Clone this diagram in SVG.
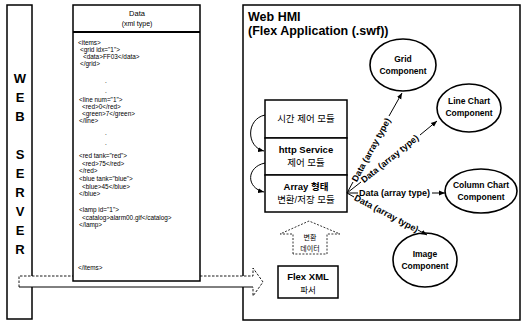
<svg xmlns="http://www.w3.org/2000/svg" width="523" height="324" viewBox="0 0 523 324">
<style>
text{font-family:"Liberation Sans","Noto Sans CJK KR",sans-serif;fill:#000}
.box{fill:#fff;stroke:#000;stroke-width:1.5}
.b{font-weight:bold}
.xml{font-size:6.4px;fill:#222}
.srv{font-size:13px;font-weight:bold;text-anchor:middle}
.mod{font-size:9.5px;text-anchor:middle}
.cmp{font-size:8.5px;font-weight:bold;text-anchor:middle}
.lbl{font-size:9px;font-weight:bold}
.ln{fill:none;stroke:#000;stroke-width:1}
.ell{fill:#fff;stroke:#000;stroke-width:1.6}
</style>
<defs>
<marker id="ah" viewBox="0 0 6 6" refX="6" refY="3" markerWidth="6" markerHeight="6" markerUnits="userSpaceOnUse" orient="auto">
<path d="M0,0.5 L6,3 L0,5.5 z" fill="#000"/>
</marker>
</defs>

<g id="web-server">
<rect class="box" x="7" y="5" width="25" height="314"/>
<text class="srv" x="20" y="83">W</text>
<text class="srv" x="20" y="102">E</text>
<text class="srv" x="20" y="121">B</text>
<text class="srv" x="20" y="159">S</text>
<text class="srv" x="20" y="178">E</text>
<text class="srv" x="20" y="197">R</text>
<text class="srv" x="20" y="216">V</text>
<text class="srv" x="20" y="235">E</text>
<text class="srv" x="20" y="254">R</text>
</g>

<g id="web-hmi">
<rect class="box" x="243" y="5" width="277" height="315"/>
<text class="b" x="248" y="21" font-size="12.5">Web HMI</text>
<text class="b" x="248" y="35" font-size="12.5">(Flex Application (.swf))</text>
</g>

<g id="transfer-arrow">
<path d="M19,276 L253,276 L253,268 L263,282 L253,296 L253,287 L19,287 Z" fill="#fff" stroke="none"/>
<path d="M19,287 L19,276 L253,276 L253,268 L263,282 L253,296 L253,287" fill="none" stroke="#000" stroke-width="0.9" stroke-dasharray="2.5 1.5"/>
<line x1="19" y1="287" x2="253" y2="287" stroke="#000" stroke-width="1"/>
</g>

<g id="data-box">
<rect class="box" x="73" y="5" width="127" height="276"/>
<line x1="73" y1="32" x2="200" y2="32" stroke="#000" stroke-width="2"/>
<text x="137" y="16" font-size="7.5" text-anchor="middle">Data</text>
<text x="137" y="26" font-size="7" text-anchor="middle">(xml type)</text>
<g class="xml">
<text x="78" y="45">&lt;items&gt;</text>
<text x="80" y="52">&lt;grid idx="1"&gt;</text>
<text x="83" y="59">&lt;data&gt;FF03&lt;/data&gt;</text>
<text x="80" y="66">&lt;/grid&gt;</text>
<text x="105" y="83">.</text>
<text x="105" y="93">.</text>
<text x="79" y="102">&lt;line num="1"&gt;</text>
<text x="82" y="109">&lt;red&gt;0&lt;/red&gt;</text>
<text x="82" y="116">&lt;green&gt;7&lt;/green&gt;</text>
<text x="79" y="123">&lt;/line&gt;</text>
<text x="105" y="135">.</text>
<text x="105" y="145">.</text>
<text x="79" y="158">&lt;red tank="red"&gt;</text>
<text x="82" y="166">&lt;red&gt;75&lt;/red&gt;</text>
<text x="79" y="173">&lt;/red&gt;</text>
<text x="79" y="181">&lt;blue tank="blue"&gt;</text>
<text x="82" y="189">&lt;blue&gt;45&lt;/blue&gt;</text>
<text x="79" y="196">&lt;/blue&gt;</text>
<text x="79" y="212">&lt;lamp id="1"&gt;</text>
<text x="82" y="220">&lt;catalog&gt;alarm00.gif&lt;/catalog&gt;</text>
<text x="79" y="227">&lt;/lamp&gt;</text>
<text x="78" y="270">&lt;/items&gt;</text>
</g>
</g>

<g id="time-module">
<rect class="box" x="265" y="100" width="82" height="38"/>
<text class="mod" x="306" y="122">시간 제어 모듈</text>
</g>
<g id="http-module">
<rect class="box" x="265" y="138" width="82" height="37"/>
<text class="mod b" x="306" y="153">http Service</text>
<text class="mod" x="306" y="166">제어 모듈</text>
</g>
<g id="array-module">
<rect class="box" x="265" y="175" width="82" height="37"/>
<text class="mod b" x="306" y="190">Array 형태</text>
<text class="mod" x="306" y="203">변환/저장 모듈</text>
</g>

<g id="convert-arrow">
<path d="M293,254 L293,234 L280,234 L309,221 L340,234 L327,234 L327,254 Z" fill="none" stroke="#000" stroke-width="0.8" stroke-dasharray="2 1.5"/>
<text x="310" y="240" font-size="7" text-anchor="middle">변환</text>
<text x="310" y="251" font-size="7" text-anchor="middle">데이터</text>
</g>

<g id="flex-xml">
<rect class="box" x="278" y="266" width="60" height="32" stroke-width="2"/>
<text class="b" x="308" y="280" font-size="9.5" text-anchor="middle">Flex XML</text>
<text x="308" y="293" font-size="8.5" text-anchor="middle">파서</text>
</g>

<g id="grid-component">
<ellipse class="ell" cx="403" cy="65" rx="33" ry="26"/>
<text class="cmp" x="403" y="62">Grid</text>
<text class="cmp" x="403" y="74">Component</text>
</g>
<g id="line-chart-component">
<ellipse class="ell" cx="469" cy="108" rx="32" ry="24"/>
<text class="cmp" x="469" y="104">Line Chart</text>
<text class="cmp" x="469" y="116">Component</text>
</g>
<g id="column-chart-component">
<ellipse class="ell" cx="481" cy="191" rx="36" ry="22"/>
<text class="cmp" x="481" y="188">Column Chart</text>
<text class="cmp" x="481" y="200">Component</text>
</g>
<g id="image-component">
<ellipse class="ell" cx="425" cy="260" rx="32" ry="27"/>
<text class="cmp" x="425" y="257">Image</text>
<text class="cmp" x="425" y="269">Component</text>
</g>

<g id="connectors">
<path class="ln" d="M265,115 C246,119 246,147 264,151" marker-end="url(#ah)"/>
<path class="ln" d="M265,163 C246,167 246,188 264,192" marker-end="url(#ah)"/>
<line class="ln" x1="347" y1="193" x2="353" y2="182"/>
<line class="ln" x1="389" y1="116" x2="402" y2="93" marker-end="url(#ah)"/>
<text class="lbl" transform="translate(354,181) rotate(-61.2)" dy="3">Data (array type)</text>
<line class="ln" x1="347" y1="193" x2="361" y2="182"/>
<line class="ln" x1="420" y1="135" x2="437" y2="121" marker-end="url(#ah)"/>
<text class="lbl" transform="translate(362,181) rotate(-38.7)" dy="3">Data (array type)</text>
<line class="ln" x1="347" y1="193" x2="358" y2="193"/>
<line class="ln" x1="432" y1="193" x2="445" y2="193" marker-end="url(#ah)"/>
<text class="lbl" x="359" y="196">Data (array type)</text>
<line class="ln" x1="347" y1="193" x2="354" y2="197"/>
<line class="ln" x1="418" y1="230" x2="427" y2="235" marker-end="url(#ah)"/>
<text class="lbl" transform="translate(355,197) rotate(27.7)" dy="3">Data (array type)</text>
</g>
</svg>
